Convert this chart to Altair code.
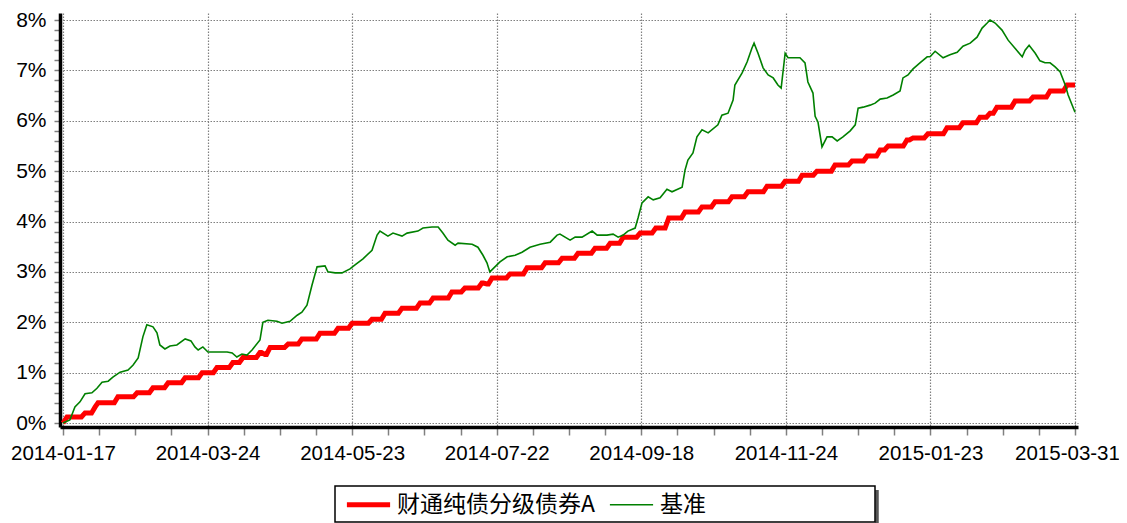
import altair as alt
import pandas as pd

# ---- data (x = trading-day index, y = cumulative return in %) ----
date_labels = ["2014-01-17", "2014-03-24", "2014-05-23", "2014-07-22",
               "2014-09-18", "2014-11-24", "2015-01-23", "2015-03-31"]

fund_name = "财通纯债分级债券A"
bench_name = "基准"

# fund: day index at which each new NAV level starts, and that level (%)
fund_idx = [0, 1.1, 6.1, 8.9, 9.7, 15.2, 20.5, 24.9, 29.1, 33.8, 38.5, 42.6, 47.0, 49.8,
            54.5, 55.9, 57.3, 62.3, 66.1, 71.1, 76.1, 80.0, 85.5, 89.1, 93.8, 98.8, 102.4,
            107.6, 111.2, 115.9, 117.3, 118.7, 123.7, 128.4, 133.4, 138.1, 142.5, 147.2,
            151.4, 155.0, 159.7, 164.0, 167.6, 172.1, 176.8, 180.4, 185.1, 189.5, 194.8,
            199.8, 204.5, 208.6, 213.6, 218.3, 222.5, 226.1, 228.3, 233.5, 235.2, 239.3,
            244.6, 249.0, 253.7, 256.5, 258.4, 263.4, 268.4, 273.1, 277.8, 280]
fund_val = [0.0, 0.12, 0.20, 0.32, 0.40, 0.52, 0.60, 0.70, 0.80, 0.90, 1.00, 1.10, 1.20, 1.30,
            1.40, 1.36, 1.50, 1.57, 1.67, 1.78, 1.88, 1.98, 2.06, 2.18, 2.28, 2.38, 2.48,
            2.60, 2.68, 2.78, 2.76, 2.88, 2.96, 3.08, 3.18, 3.27, 3.37, 3.47,
            3.57, 3.69, 3.77, 3.87, 4.07, 4.19, 4.29, 4.39, 4.49, 4.59, 4.70,
            4.80, 4.92, 5.00, 5.12, 5.20, 5.30, 5.42, 5.50, 5.62, 5.66, 5.74,
            5.86, 5.96, 6.07, 6.15, 6.27, 6.39, 6.47, 6.59, 6.71, 6.71]

bench_idx = [0, 1.9, 3.3, 4.7, 6.1, 8.0, 9.4, 10.8, 12.5, 13.8, 15.8, 18.0, 19.4, 20.8, 22.1,
             23.2, 24.9, 26.0, 26.8, 28.2, 29.6, 31.5, 33.8, 35.4, 36.5, 37.4, 38.7, 40.1,
             42.6, 45.4, 46.8, 48.1, 49.5, 50.9, 52.3, 54.5, 55.3, 56.7, 59.2, 60.6, 62.8,
             64.8, 66.1, 67.5, 68.9, 70.3, 72.5, 73.3, 75.3, 77.2, 79.4, 80.8, 83.0, 85.5,
             86.9, 87.7, 89.9, 91.3, 93.8, 95.2, 98.2, 99.6, 102.1, 103.8, 105.1, 106.5,
             108.5, 109.3, 113.2, 114.8, 116.2, 117.3, 118.1, 119.5, 120.9, 122.9, 125.1,
             127.0, 129.2, 132.0, 134.8, 136.7, 137.5, 140.3, 141.7, 143.6, 146.4, 147.8,
             150.5, 152.2, 153.6, 155.0, 156.3, 158.3, 159.1, 160.2, 161.9, 163.3, 165.2,
             167.1, 168.5, 171.3, 172.1, 172.9, 174.3, 175.4, 176.8, 178.5, 181.2, 182.3,
             184.0, 185.4, 185.9, 187.9, 189.3, 190.6, 191.2, 192.3, 193.7, 195.1, 196.5,
             197.8, 198.7, 199.8, 200.6, 203.9, 205.3, 206.1, 207.5, 208.1, 208.9, 210.0,
             211.4, 212.8, 214.2, 215.8, 217.8, 219.2, 220.0, 221.4, 223.3, 224.7, 226.1,
             228.0, 229.7, 231.6, 232.4, 233.8, 235.2, 237.1, 239.1, 239.9, 241.3, 243.5,
             245.4, 247.4, 249.0, 251.0, 252.9, 254.3, 255.7, 256.5, 257.9, 259.8, 261.5,
             263.4, 265.4, 266.2, 267.3, 269.0, 270.3, 271.7, 273.1, 274.5, 275.9, 277.3,
             278.1, 280.0]
bench_val = [0.0, 0.06, 0.32, 0.42, 0.58, 0.60, 0.69, 0.81, 0.83, 0.91, 1.01, 1.05, 1.15, 1.29, 1.71,
             1.95, 1.91, 1.79, 1.55, 1.47, 1.53, 1.55, 1.67, 1.63, 1.51, 1.45, 1.51, 1.41,
             1.41, 1.41, 1.39, 1.31, 1.37, 1.35, 1.45, 1.65, 2.00, 2.04, 2.02, 1.98, 2.02,
             2.14, 2.20, 2.34, 2.74, 3.10, 3.12, 3.00, 2.98, 2.98, 3.06, 3.14, 3.26, 3.43,
             3.73, 3.81, 3.71, 3.77, 3.71, 3.77, 3.81, 3.87, 3.89, 3.89, 3.77, 3.63,
             3.53, 3.57, 3.55, 3.49, 3.33, 3.18, 3.00, 3.10, 3.20, 3.30, 3.33,
             3.39, 3.49, 3.55, 3.59, 3.73, 3.75, 3.63, 3.69, 3.69, 3.81, 3.73,
             3.73, 3.75, 3.69, 3.73, 3.81, 3.87, 4.07, 4.37, 4.49, 4.43, 4.47,
             4.64, 4.59, 4.68, 5.02, 5.22, 5.36, 5.68, 5.82, 5.76, 5.92, 6.11,
             6.15, 6.41, 6.71, 6.95, 7.17, 7.44, 7.54, 7.34, 7.05, 6.91, 6.85,
             6.71, 6.65, 7.34, 7.25, 7.25, 7.15, 6.77, 6.55, 6.09, 5.97, 5.48,
             5.68, 5.68, 5.60, 5.68, 5.80, 5.92, 6.25, 6.27, 6.31, 6.35, 6.43,
             6.45, 6.51, 6.59, 6.85, 6.91, 7.03, 7.15, 7.27, 7.27, 7.38, 7.25,
             7.31, 7.36, 7.48, 7.54, 7.66, 7.84, 7.94, 8.00, 7.94, 7.80, 7.60,
             7.44, 7.27, 7.40, 7.50, 7.34, 7.19, 7.15, 7.15, 7.07, 6.97, 6.71,
             6.51, 6.17]

# daily fund NAV is flat until the day before the next level: keep each level up to that day
fund_x, fund_y = [], []
for i, (d, v) in enumerate(zip(fund_idx, fund_val)):
    fund_x.append(d)
    fund_y.append(v)
    if i + 1 < len(fund_idx) and fund_idx[i + 1] - d > 1.2:
        fund_x.append(fund_idx[i + 1] - 1.0)
        fund_y.append(v)

fund_df = pd.DataFrame({"idx": fund_x, "val": fund_y, "series": fund_name})
bench_df = pd.DataFrame({"idx": bench_idx, "val": bench_val, "series": bench_name})

series_domain = [fund_name, bench_name]
label_array = "[" + ",".join("'%s'" % d for d in date_labels) + "]"

x_axis = alt.Axis(
    values=list(range(0, 281, 10)),
    labelExpr="datum.value % 40 == 0 ? " + label_array + "[datum.value / 40] : ''",
    title=None,
    grid=True,
    gridColor="#808080",
    gridDash=[1.5, 1.5],
    gridWidth=1.2,
    gridOpacity={"condition": {"test": "datum.value % 40 == 0", "value": 1}, "value": 0},
    domainColor="black",
    domainWidth=3.5,
    tickColor="#808080",
    tickWidth=1.5,
    tickSize=8,
    labelPadding=8,
    labelFont="Liberation Sans",
    labelFontSize=20.5,
    labelColor="black",
    labelOverlap=False,
    labelFlush=False,
    labelOffset={"condition": {"test": "datum.value == 280", "value": -8}, "value": 0},
)

y_axis = alt.Axis(
    values=[round(i * 0.2, 1) for i in range(41)],
    labelExpr="datum.value % 1 == 0 ? datum.value + '%' : ''",
    title=None,
    grid=True,
    gridColor="#808080",
    gridDash=[1.5, 1.5],
    gridWidth=1.2,
    gridOpacity={"condition": {"test": "datum.value % 1 == 0", "value": 1}, "value": 0},
    domainColor="black",
    domainWidth=3.5,
    tickColor="#808080",
    tickWidth=1.5,
    tickSize=6,
    labelPadding=8,
    labelFont="Liberation Sans",
    labelFontSize=21,
    labelColor="black",
    labelOverlap=False,
    labelFlush=False,
)

x_enc = alt.X("idx:Q", scale=alt.Scale(domain=[-0.83, 280.83], nice=False, zero=False), axis=x_axis)
y_enc = alt.Y("val:Q", scale=alt.Scale(domain=[-0.079, 8.139], nice=False, zero=False), axis=y_axis)

legend = alt.Legend(title=None)

color_enc = alt.Color("series:N", scale=alt.Scale(domain=series_domain, range=["#ff0000", "#008000"]),
                      legend=legend)
width_enc = alt.StrokeWidth("series:N", scale=alt.Scale(domain=series_domain, range=[5, 1.6]),
                            legend=legend)

fund_line = alt.Chart(fund_df).mark_line(interpolate="linear").encode(
    x=x_enc, y=y_enc, color=color_enc, strokeWidth=width_enc)
bench_line = alt.Chart(bench_df).mark_line(interpolate="linear").encode(
    x=x_enc, y=y_enc, color=color_enc, strokeWidth=width_enc)

# legend frame and its drop shadow (decoration, pixel-placed below the plot)
frame_src = pd.DataFrame({"k": [0]})
shadow = alt.Chart(frame_src).mark_rule(color="#555555", strokeWidth=3.5).encode(
    x=alt.value(817), y=alt.value(477), y2=alt.value(512))
frame = alt.Chart(frame_src).mark_rect(fill="white", stroke="black", strokeWidth=1.5).encode(
    x=alt.value(275), x2=alt.value(815), y=alt.value(473), y2=alt.value(509))

chart = alt.layer(fund_line, bench_line, shadow, frame).properties(
    width=1018,
    height=414,
    autosize=alt.AutoSizeParams(type="none"),
    padding={"left": 52, "top": 5, "right": 41, "bottom": 97},
).configure_view(stroke=None).configure_legend(
    orient="none",
    legendX=275,
    legendY=473,
    direction="horizontal",
    padding=7,
    labelFont="Noto Sans CJK SC",
    labelFontSize=23,
    labelLimit=700,
    labelColor="black",
    symbolType="M-2.7,0H2.7",
    symbolSize=256,
    symbolOffset=15,
    labelOffset=17,
    columnPadding=10,
)

chart.save("out.html", embed_options={"renderer": "svg", "actions": False})
